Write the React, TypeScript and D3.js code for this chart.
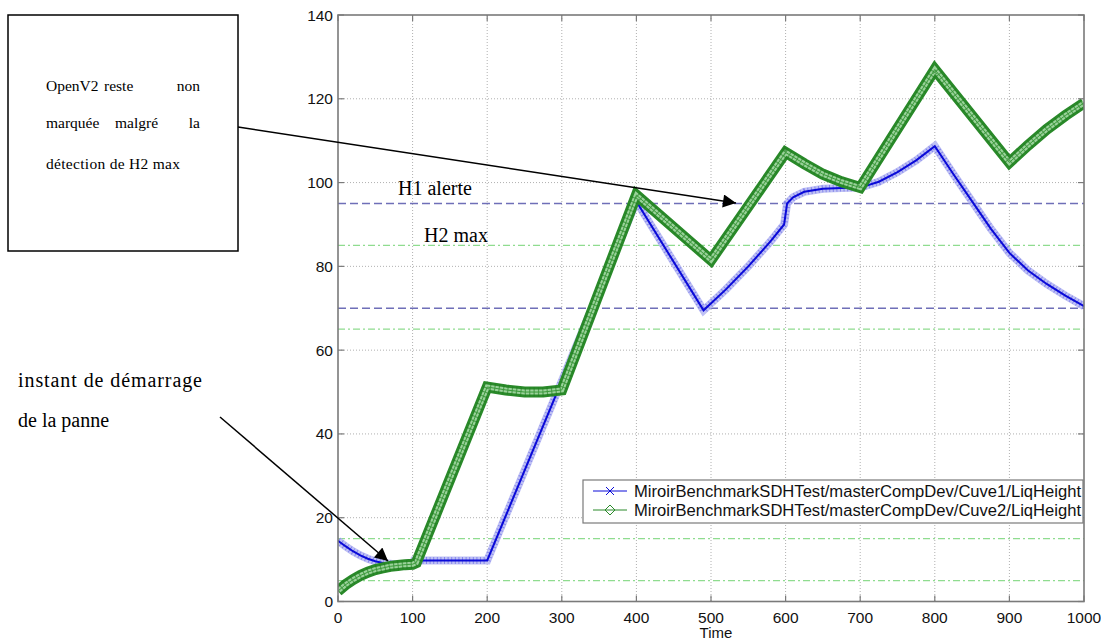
import React from "react";
import * as d3 from "d3";

// ---- data ----
const timeCuve1 = [0, 10, 20, 30, 40, 50, 60, 70, 80, 90, 100, 102, 200, 400, 490, 520, 550, 580, 598, 602, 610, 625, 650, 675, 700, 725, 750, 775, 800, 825, 850, 875, 900, 925, 950, 975, 1000];
const cuve1 = [14.5, 13.2, 12.0, 11.0, 10.2, 9.6, 9.2, 9.0, 8.8, 8.7, 8.7, 9.8, 9.8, 95.5, 69.5, 74.5, 80, 86, 90, 95, 96.5, 97.8, 98.5, 98.7, 98.8, 100.2, 102.5, 105.3, 108.7, 102, 95.5, 89, 83.2, 79, 75.8, 73, 70.5];
const timeCuve2 = [0, 10, 20, 30, 40, 50, 60, 70, 80, 90, 100, 105, 200, 225, 250, 275, 300, 400, 500, 600, 625, 650, 675, 700, 800, 900, 925, 950, 975, 1000];
const cuve2 = [2.5, 4.0, 5.2, 6.2, 7.0, 7.6, 8.0, 8.4, 8.6, 8.8, 8.9, 9.3, 51.2, 50.5, 50.0, 50.0, 50.5, 97, 81.5, 107.2, 104.5, 102, 100.2, 98.8, 127, 104.8, 108.9, 112.7, 116.0, 119];
const h1Levels = [95, 70];
const h2Levels = [85, 65, 15, 5];
const xTicks = [0, 100, 200, 300, 400, 500, 600, 700, 800, 900, 1000];
const yTicks = [0, 20, 40, 60, 80, 100, 120, 140];
const seriesNames = [
  "MiroirBenchmarkSDHTest/masterCompDev/Cuve1/LiqHeight",
  "MiroirBenchmarkSDHTest/masterCompDev/Cuve2/LiqHeight",
];

const W = 1101;
const H = 643;
const L = 338, R = 1084, T = 15, B = 601.5;

export default function App() {
  const x = d3.scaleLinear().domain([0, 1000]).range([L, R]);
  const y = d3.scaleLinear().domain([0, 140]).range([B, T]);
  const line = d3.line<[number, number]>().x((d) => x(d[0])).y((d) => y(d[1]));
  const p1 = line(timeCuve1.map((t, i) => [t, cuve1[i]] as [number, number])) || "";
  const p2 = line(timeCuve2.map((t, i) => [t, cuve2[i]] as [number, number])) || "";
  const sans = "'Liberation Sans', Arial, Helvetica, sans-serif";
  const serif = "'Liberation Serif', 'Times New Roman', serif";
  const axisCol = "#7a7a7a";

  return (
    <svg width={W} height={H} style={{ position: "fixed", left: 0, top: 0, background: "#fff" }}>
      <defs>
        <marker id="ah" viewBox="0 0 10 10" refX="10" refY="5" markerWidth="17" markerHeight="13" markerUnits="userSpaceOnUse" orient="auto">
          <path d="M0,0 L10,5 L0,10 z" fill="#000" />
        </marker>
        <clipPath id="plot">
          <rect x={L} y={T} width={R - L} height={B - T} />
        </clipPath>
      </defs>
      <rect x={0} y={0} width={W} height={H} fill="#fff" />

      {/* grid */}
      {xTicks.slice(1, -1).map((t) => (
        <line key={"gx" + t} x1={x(t)} x2={x(t)} y1={T} y2={B} stroke="#b0b0b0" strokeWidth={1} strokeDasharray="1,2" />
      ))}
      {yTicks.slice(1, -1).map((t) => (
        <line key={"gy" + t} x1={L} x2={R} y1={y(t)} y2={y(t)} stroke="#b0b0b0" strokeWidth={1} strokeDasharray="1,2" />
      ))}

      {/* reference levels */}
      {h2Levels.map((v) => (
        <line key={"h2" + v} x1={L} x2={R} y1={y(v)} y2={y(v)} stroke="#8fdc8f" strokeWidth={1.3} strokeDasharray="7,3,2,3" />
      ))}
      {h1Levels.map((v) => (
        <line key={"h1" + v} x1={L} x2={R} y1={y(v)} y2={y(v)} stroke="#6f6fb8" strokeWidth={1.4} strokeDasharray="8,4" />
      ))}

      {/* series */}
      <g clipPath="url(#plot)" fill="none" strokeLinejoin="miter" strokeMiterlimit={3}>
        <path d={p1} stroke="#b4b6f2" strokeWidth={8} opacity={0.85} />
        <path d={p1} stroke="#5656e6" strokeWidth={7} strokeDasharray="1,2.6" opacity={0.55} />
        <path d={p1} stroke="#0a0ad8" strokeWidth={2} />
        <path d={p2} stroke="#2a8a2a" strokeWidth={11} />
        <path d={p2} stroke="#9ad29a" strokeWidth={5} />
        <path d={p2} stroke="#1f7d1f" strokeWidth={9} strokeDasharray="1.2,3.2" opacity={0.6} />
        <path d={p2} stroke="#3a9a3a" strokeWidth={1} />
      </g>

      {/* axes frame */}
      <rect x={L} y={T} width={R - L} height={B - T} fill="none" stroke={axisCol} strokeWidth={1.6} />
      {xTicks.map((t) => (
        <g key={"xt" + t}>
          <line x1={x(t)} x2={x(t)} y1={B} y2={B - 6} stroke={axisCol} strokeWidth={1.2} />
          <line x1={x(t)} x2={x(t)} y1={T} y2={T + 6} stroke={axisCol} strokeWidth={1.2} />
          <text x={x(t)} y={B + 21} textAnchor="middle" fontFamily={sans} fontSize={15.5} fill="#111">{t}</text>
        </g>
      ))}
      {yTicks.map((t) => (
        <g key={"yt" + t}>
          <line x1={L} x2={L + 6} y1={y(t)} y2={y(t)} stroke={axisCol} strokeWidth={1.2} />
          <line x1={R} x2={R - 6} y1={y(t)} y2={y(t)} stroke={axisCol} strokeWidth={1.2} />
          <text x={L - 5} y={y(t) + 5.5} textAnchor="end" fontFamily={sans} fontSize={15.5} fill="#111">{t}</text>
        </g>
      ))}
      <text x={716} y={638} textAnchor="middle" fontFamily={sans} fontSize={15} fill="#111">Time</text>

      {/* legend */}
      <rect x={583} y={480} width={500} height={43} fill="#fff" stroke={axisCol} strokeWidth={1.2} />
      <line x1={593} x2={627} y1={491} y2={491} stroke="#0a0ad8" strokeWidth={1} />
      <path d="M606,487 L614,495 M606,495 L614,487" stroke="#0a0ad8" strokeWidth={1} />
      <line x1={593} x2={627} y1={510} y2={510} stroke="#2a8a2a" strokeWidth={1} />
      <path d="M610,505 L615,510 L610,515 L605,510 Z" fill="none" stroke="#2a8a2a" strokeWidth={1} />
      {seriesNames.map((s, i) => (
        <text key={s} x={634} y={497 + i * 19} fontFamily={sans} fontSize={16} fill="#111" textLength={447} lengthAdjust="spacingAndGlyphs">{s}</text>
      ))}

      {/* annotations */}
      <text x={398} y={195} fontFamily={serif} fontSize={20} fill="#000">H1 alerte</text>
      <text x={424} y={242} fontFamily={serif} fontSize={20} fill="#000">H2 max</text>

      <rect x={8} y={15} width={230} height={236} fill="#fff" stroke="#000" strokeWidth={1.5} />
      <g fontFamily={serif} fontSize={15.5} fill="#000">
        <text x={46} y={91}>OpenV2</text>
        <text x={104} y={91}>reste</text>
        <text x={200} y={91} textAnchor="end">non</text>
        <text x={46} y={128}>marquée</text>
        <text x={115} y={128}>malgré</text>
        <text x={200} y={128} textAnchor="end">la</text>
        <text x={46} y={169} textLength={134} lengthAdjust="spacing">détection de H2 max</text>
      </g>
      <line x1={238} y1={127} x2={736} y2={203} stroke="#000" strokeWidth={1.5} markerEnd="url(#ah)" />

      <text x={18} y={387} fontFamily={serif} fontSize={20} fill="#000" textLength={184} lengthAdjust="spacing">instant de démarrage</text>
      <text x={18} y={427} fontFamily={serif} fontSize={20} fill="#000">de la panne</text>
      <line x1={220} y1={417} x2={388} y2={561} stroke="#000" strokeWidth={1.5} markerEnd="url(#ah)" />
    </svg>
  );
}
